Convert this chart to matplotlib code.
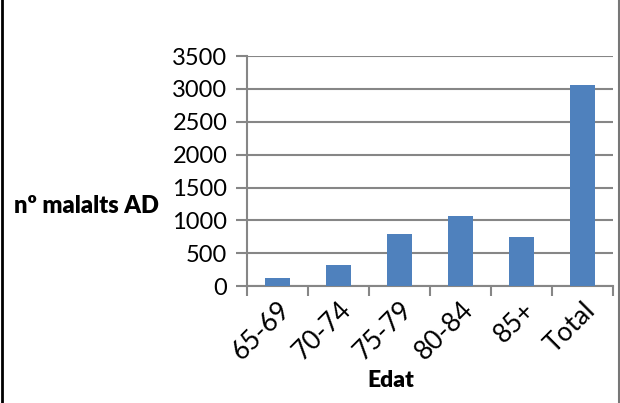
import matplotlib.pyplot as plt
from matplotlib.lines import Line2D

# Malalts d'Alzheimer per grup d'edat
grups = ['65-69', '70-74', '75-79', '80-84', '85+', 'Total']
malalts = [120, 320, 800, 1060, 750, 3060]

plt.rcParams['font.family'] = ['Lato', 'DejaVu Sans']

fig = plt.figure(figsize=(6.2, 4.03), dpi=100)
ax = fig.add_axes([0.398, 0.29, 0.591, 0.571])

x = range(len(grups))
ax.bar(x, malalts, width=0.41, color='#4F81BD', zorder=3)

ax.set_ylim(0, 3500)
ax.set_yticks(range(0, 3501, 500))
ax.set_xlim(-0.5, len(grups) - 0.5)
ax.set_xticks(list(x))
ax.set_xticklabels(grups, rotation=45, ha='right', rotation_mode='anchor')
ax.set_xticks([i - 0.5 for i in range(len(grups) + 1)], minor=True)

ax.grid(axis='y', color='#868686', linewidth=1.5, zorder=0)
for s in ['top', 'right']:
    ax.spines[s].set_visible(False)
for s in ['left', 'bottom']:
    ax.spines[s].set_color('#868686')
    ax.spines[s].set_linewidth(1.5)

ax.tick_params(axis='y', direction='out', length=8, width=1.5, color='#868686',
               labelsize=17, pad=6)
ax.tick_params(axis='x', which='major', length=0, labelsize=19, pad=8)
ax.tick_params(axis='x', which='minor', direction='out', length=7, width=1.5,
               color='#868686')

fig.text(0.022, 0.49, 'nº malalts AD', fontsize=17, fontweight='heavy',
         ha='left', va='center')
fig.text(0.63, 0.055, 'Edat', fontsize=16.5, fontweight='heavy',
         ha='center', va='center')

# marc del gràfic
fig.add_artist(Line2D([0.003, 0.003], [0, 1], color='black', linewidth=2,
                      transform=fig.transFigure))
fig.add_artist(Line2D([0.998, 0.998], [0, 1], color='#777777', linewidth=1.5,
                      transform=fig.transFigure))

fig.savefig('out.png', dpi=100, facecolor='white')
